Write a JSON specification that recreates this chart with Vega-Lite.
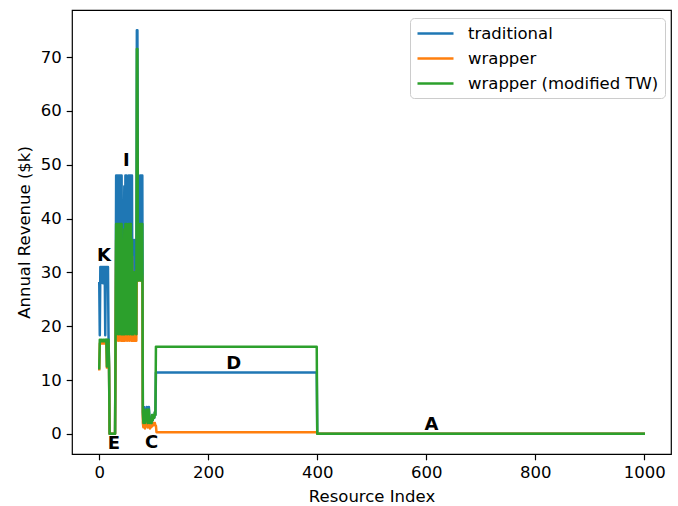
{
  "$schema": "https://vega.github.io/schema/vega-lite/v6.json",
  "width": 599,
  "height": 444,
  "autosize": {"type": "none"},
  "padding": {"left": 72, "top": 10, "right": 7, "bottom": 52},
  "background": "white",
  "datasets": {
    "series": [
      {"i":0,"traditional":28,"wrapper":12,"wrapper (modified TW)":12.2},
      {"i":1,"traditional":18.3,"wrapper":16.8,"wrapper (modified TW)":17.5},
      {"i":2,"traditional":31,"wrapper":16.8,"wrapper (modified TW)":17.5},
      {"i":3,"traditional":28,"wrapper":17,"wrapper (modified TW)":17.2},
      {"i":4,"traditional":31,"wrapper":16.8,"wrapper (modified TW)":17.5},
      {"i":5,"traditional":28.5,"wrapper":16.8,"wrapper (modified TW)":17.5},
      {"i":6,"traditional":31,"wrapper":17,"wrapper (modified TW)":17.2},
      {"i":7,"traditional":28,"wrapper":16.8,"wrapper (modified TW)":17.5},
      {"i":8,"traditional":31,"wrapper":16.8,"wrapper (modified TW)":17.5},
      {"i":9,"traditional":28.5,"wrapper":17,"wrapper (modified TW)":17.2},
      {"i":10,"traditional":31,"wrapper":16.8,"wrapper (modified TW)":17.5},
      {"i":11,"traditional":18.3,"wrapper":16.8,"wrapper (modified TW)":17.5},
      {"i":12,"traditional":31,"wrapper":17,"wrapper (modified TW)":17.2},
      {"i":13,"traditional":28,"wrapper":16.8,"wrapper (modified TW)":17.5},
      {"i":14,"traditional":31,"wrapper":12.3,"wrapper (modified TW)":12.5},
      {"i":15,"traditional":28.5,"wrapper":16.8,"wrapper (modified TW)":17.5},
      {"i":16,"traditional":31,"wrapper":16.8,"wrapper (modified TW)":17.5},
      {"i":17,"traditional":18.3,"wrapper":16.8,"wrapper (modified TW)":17.5},
      {"i":18,"traditional":12,"wrapper":12,"wrapper (modified TW)":12.3},
      {"i":19,"traditional":0,"wrapper":0,"wrapper (modified TW)":0},
      {"i":29,"traditional":0,"wrapper":0,"wrapper (modified TW)":0},
      {"i":30,"traditional":18.5,"wrapper":17.3,"wrapper (modified TW)":18.5},
      {"i":31,"traditional":48,"wrapper":36,"wrapper (modified TW)":39},
      {"i":32,"traditional":18.5,"wrapper":17.3,"wrapper (modified TW)":18.5},
      {"i":33,"traditional":48,"wrapper":36,"wrapper (modified TW)":39},
      {"i":34,"traditional":30,"wrapper":23,"wrapper (modified TW)":25},
      {"i":35,"traditional":48,"wrapper":36,"wrapper (modified TW)":39},
      {"i":36,"traditional":18.5,"wrapper":17.3,"wrapper (modified TW)":18.5},
      {"i":37,"traditional":48,"wrapper":36,"wrapper (modified TW)":39},
      {"i":38,"traditional":36,"wrapper":28,"wrapper (modified TW)":30},
      {"i":39,"traditional":48,"wrapper":36,"wrapper (modified TW)":39},
      {"i":40,"traditional":18.5,"wrapper":17.3,"wrapper (modified TW)":18.5},
      {"i":41,"traditional":48,"wrapper":36,"wrapper (modified TW)":39},
      {"i":42,"traditional":18.5,"wrapper":17.3,"wrapper (modified TW)":18.5},
      {"i":43,"traditional":36,"wrapper":28,"wrapper (modified TW)":30},
      {"i":44,"traditional":18.5,"wrapper":17.3,"wrapper (modified TW)":18.5},
      {"i":45,"traditional":36,"wrapper":28,"wrapper (modified TW)":30},
      {"i":46,"traditional":46,"wrapper":35,"wrapper (modified TW)":38},
      {"i":47,"traditional":18.5,"wrapper":17.3,"wrapper (modified TW)":18.5},
      {"i":48,"traditional":48,"wrapper":36,"wrapper (modified TW)":39},
      {"i":49,"traditional":22,"wrapper":18,"wrapper (modified TW)":20},
      {"i":50,"traditional":48,"wrapper":36,"wrapper (modified TW)":39},
      {"i":51,"traditional":18.5,"wrapper":17.3,"wrapper (modified TW)":18.5},
      {"i":52,"traditional":46,"wrapper":35,"wrapper (modified TW)":38},
      {"i":53,"traditional":36,"wrapper":28,"wrapper (modified TW)":30},
      {"i":54,"traditional":48,"wrapper":36,"wrapper (modified TW)":39},
      {"i":55,"traditional":18.5,"wrapper":17.3,"wrapper (modified TW)":18.5},
      {"i":56,"traditional":48,"wrapper":36,"wrapper (modified TW)":39},
      {"i":57,"traditional":20,"wrapper":17.5,"wrapper (modified TW)":19},
      {"i":58,"traditional":48,"wrapper":36,"wrapper (modified TW)":39},
      {"i":59,"traditional":18.5,"wrapper":17.3,"wrapper (modified TW)":18.5},
      {"i":60,"traditional":48,"wrapper":33,"wrapper (modified TW)":36},
      {"i":61,"traditional":18.5,"wrapper":17.3,"wrapper (modified TW)":18.5},
      {"i":62,"traditional":36,"wrapper":28,"wrapper (modified TW)":30},
      {"i":63,"traditional":18.5,"wrapper":17.3,"wrapper (modified TW)":18.5},
      {"i":64,"traditional":36,"wrapper":28,"wrapper (modified TW)":30},
      {"i":65,"traditional":22,"wrapper":17.3,"wrapper (modified TW)":19},
      {"i":66,"traditional":22,"wrapper":17.3,"wrapper (modified TW)":19},
      {"i":67,"traditional":22,"wrapper":17.3,"wrapper (modified TW)":19},
      {"i":68,"traditional":18.5,"wrapper":17.3,"wrapper (modified TW)":18.5},
      {"i":69,"traditional":75,"wrapper":30.5,"wrapper (modified TW)":71.5},
      {"i":70,"traditional":75,"wrapper":30.5,"wrapper (modified TW)":71.5},
      {"i":71,"traditional":36,"wrapper":28.5,"wrapper (modified TW)":30},
      {"i":72,"traditional":29,"wrapper":30,"wrapper (modified TW)":28.5},
      {"i":73,"traditional":39,"wrapper":28.5,"wrapper (modified TW)":39},
      {"i":74,"traditional":30,"wrapper":30.5,"wrapper (modified TW)":29},
      {"i":75,"traditional":48,"wrapper":28.5,"wrapper (modified TW)":39},
      {"i":76,"traditional":29,"wrapper":30,"wrapper (modified TW)":28.5},
      {"i":77,"traditional":48,"wrapper":28.5,"wrapper (modified TW)":39},
      {"i":78,"traditional":39,"wrapper":30,"wrapper (modified TW)":36},
      {"i":79,"traditional":48,"wrapper":28.5,"wrapper (modified TW)":39},
      {"i":80,"traditional":4,"wrapper":2,"wrapper (modified TW)":4},
      {"i":81,"traditional":2,"wrapper":1.2,"wrapper (modified TW)":2},
      {"i":82,"traditional":5,"wrapper":2.5,"wrapper (modified TW)":4.5},
      {"i":83,"traditional":3,"wrapper":1.5,"wrapper (modified TW)":3},
      {"i":84,"traditional":2,"wrapper":1,"wrapper (modified TW)":2},
      {"i":85,"traditional":4.5,"wrapper":2,"wrapper (modified TW)":4},
      {"i":86,"traditional":3,"wrapper":1.5,"wrapper (modified TW)":3},
      {"i":87,"traditional":5,"wrapper":2.2,"wrapper (modified TW)":4.5},
      {"i":88,"traditional":3.5,"wrapper":1.5,"wrapper (modified TW)":3.5},
      {"i":89,"traditional":2,"wrapper":1.2,"wrapper (modified TW)":2},
      {"i":90,"traditional":4,"wrapper":2,"wrapper (modified TW)":3.5},
      {"i":91,"traditional":5,"wrapper":2.5,"wrapper (modified TW)":4.5},
      {"i":92,"traditional":3,"wrapper":1.5,"wrapper (modified TW)":3},
      {"i":93,"traditional":2,"wrapper":1,"wrapper (modified TW)":2},
      {"i":94,"traditional":2,"wrapper":1.2,"wrapper (modified TW)":2},
      {"i":95,"traditional":3,"wrapper":1.5,"wrapper (modified TW)":2.5},
      {"i":96,"traditional":2,"wrapper":1.3,"wrapper (modified TW)":2},
      {"i":97,"traditional":3.5,"wrapper":2,"wrapper (modified TW)":3.5},
      {"i":98,"traditional":2.5,"wrapper":1.5,"wrapper (modified TW)":2.5},
      {"i":99,"traditional":3,"wrapper":2,"wrapper (modified TW)":3},
      {"i":100,"traditional":3.5,"wrapper":2,"wrapper (modified TW)":3.5},
      {"i":101,"traditional":3,"wrapper":1.7,"wrapper (modified TW)":3},
      {"i":102,"traditional":4,"wrapper":2,"wrapper (modified TW)":4},
      {"i":103,"traditional":3.5,"wrapper":1.5,"wrapper (modified TW)":3.5},
      {"i":104,"traditional":11.4,"wrapper":1.5,"wrapper (modified TW)":16.2},
      {"i":105,"traditional":11.4,"wrapper":0.3,"wrapper (modified TW)":16.2},
      {"i":399,"traditional":11.4,"wrapper":0.3,"wrapper (modified TW)":16.2},
      {"i":400,"traditional":0,"wrapper":0,"wrapper (modified TW)":0},
      {"i":999,"traditional":0,"wrapper":0,"wrapper (modified TW)":0}
    ],
    "labels": [
      {"x":8.6,"y":33.0,"label":"K"},
      {"x":49.8,"y":50.7,"label":"I"},
      {"x":26.9,"y":-1.9,"label":"E"},
      {"x":96.0,"y":-1.7,"label":"C"},
      {"x":246.7,"y":13.0,"label":"D"},
      {"x":609.3,"y":1.6,"label":"A"}
    ]
  },
  "layer": [
    {
      "data": {"name": "series"},
      "transform": [{"fold": ["traditional", "wrapper", "wrapper (modified TW)"], "as": ["series", "value"]}],
      "mark": {"type": "line", "strokeWidth": 2.5, "strokeJoin": "round", "strokeCap": "square", "clip": true},
      "encoding": {
        "x": {"field": "i", "type": "quantitative",
          "scale": {"domain": [-50, 1049], "nice": false, "zero": false},
          "axis": {"title": "Resource Index", "values": [0, 200, 400, 600, 800, 1000], "format": "d", "titlePadding": 7}},
        "y": {"field": "value", "type": "quantitative",
          "scale": {"domain": [-3.75, 78.75], "nice": false, "zero": false},
          "axis": {"title": "Annual Revenue ($k)", "values": [0, 10, 20, 30, 40, 50, 60, 70], "format": "d", "titlePadding": 8}},
        "color": {"field": "series", "type": "nominal",
          "scale": {"domain": ["traditional", "wrapper", "wrapper (modified TW)"], "range": ["#1f77b4", "#ff7f0e", "#2ca02c"]},
          "legend": {"title": null, "orient": "none", "legendX": 338, "legendY": 8,
            "symbolType": "M-1,0H3.5", "symbolSize": 256, "symbolStrokeWidth": 2.5,
            "labelFontSize": 16.5, "labelFont": "DejaVu Sans", "labelColor": "black", "labelOffset": 33,
            "padding": 6, "rowPadding": 7, "strokeColor": "#cccccc", "fillColor": "rgba(255,255,255,0.85)",
            "cornerRadius": 4, "labelLimit": 400}}
      }
    },
    {
      "data": {"name": "labels"},
      "mark": {"type": "text", "font": "DejaVu Sans", "fontWeight": "bold", "fontSize": 18, "align": "center", "baseline": "middle", "color": "black"},
      "encoding": {
        "x": {"field": "x", "type": "quantitative"},
        "y": {"field": "y", "type": "quantitative"},
        "text": {"field": "label", "type": "nominal"}
      }
    }
  ],
  "config": {
    "view": {"stroke": "black", "strokeWidth": 1.2},
    "axis": {"domain": false, "grid": false, "tickColor": "black", "tickSize": 5.8, "tickWidth": 1.2,
      "labelFont": "DejaVu Sans", "labelFontSize": 16.5, "labelColor": "black", "labelPadding": 5,
      "titleFont": "DejaVu Sans", "titleFontSize": 16.5, "titleFontWeight": "normal", "titleColor": "black"}
  }
}
